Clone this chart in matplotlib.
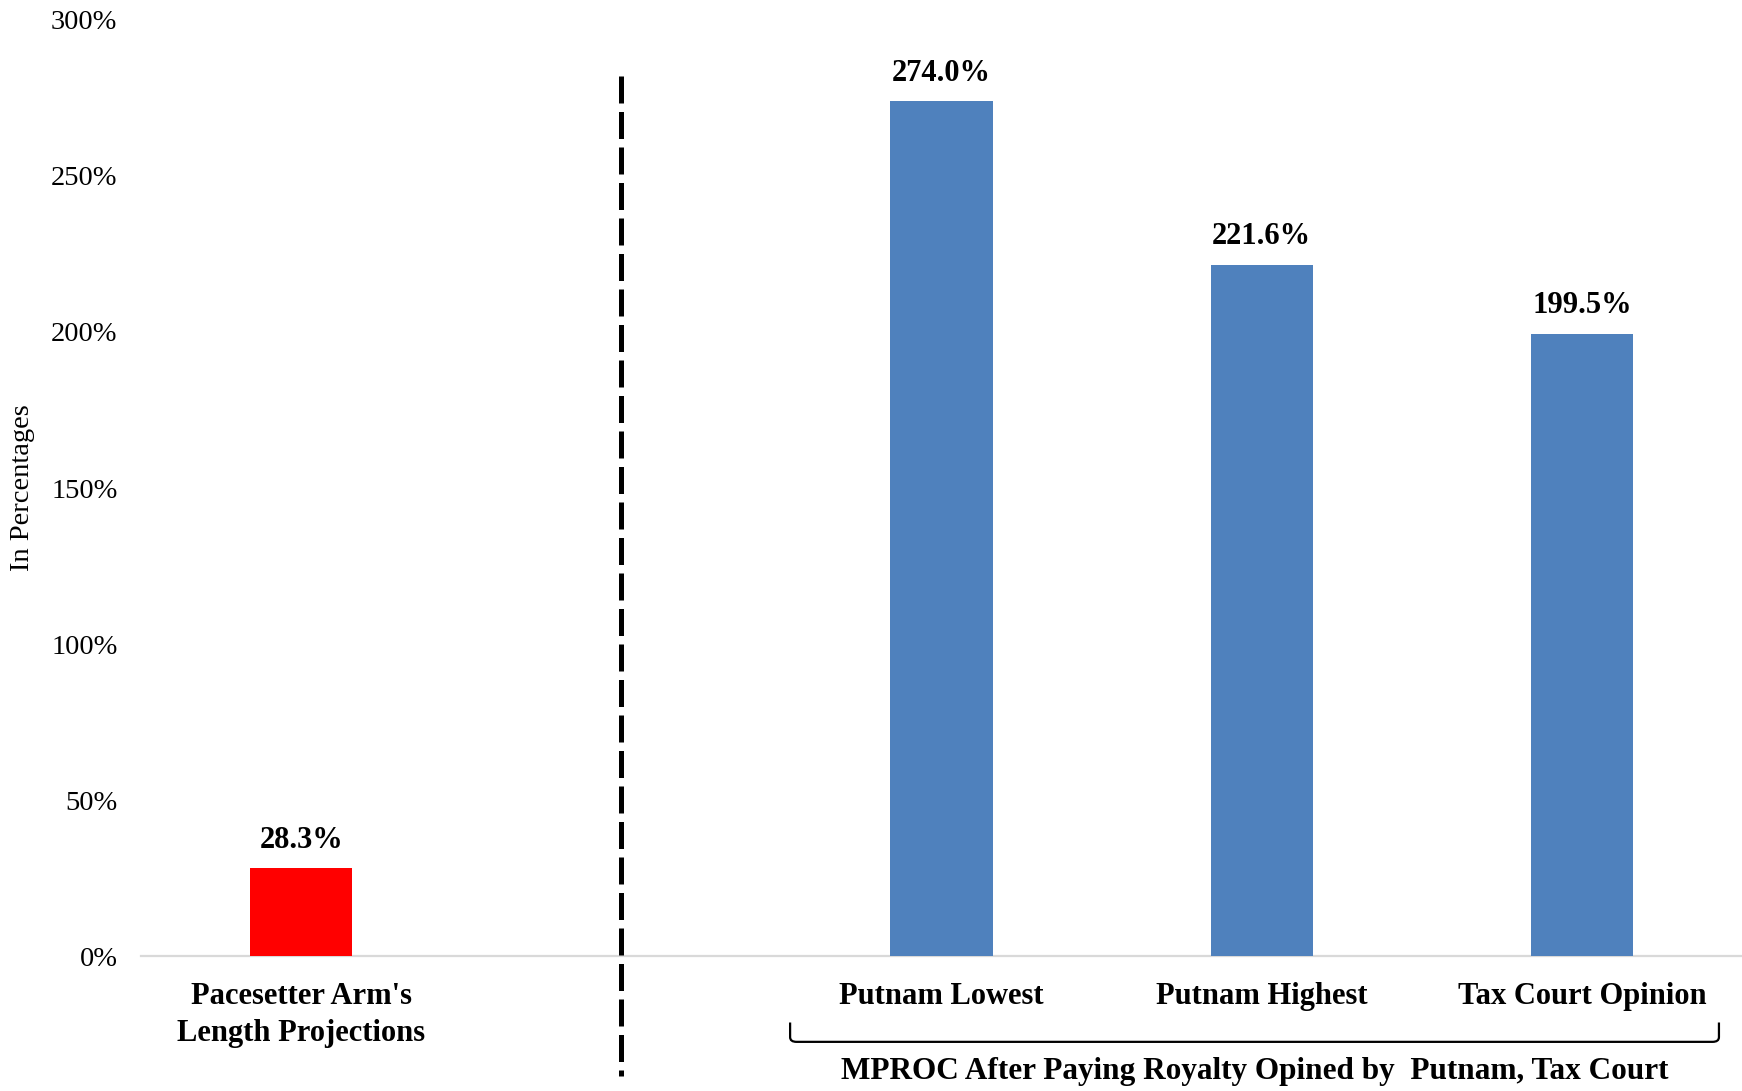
import matplotlib
matplotlib.use("Agg")
import matplotlib.pyplot as plt
from matplotlib.ticker import FuncFormatter
from matplotlib.path import Path
from matplotlib.patches import PathPatch

plt.rcParams['font.family'] = ['Liberation Serif', 'DejaVu Serif']

categories = ["Pacesetter Arm's\nLength Projections", "", "Putnam Lowest", "Putnam Highest", "Tax Court Opinion"]
values = [28.3, None, 274.0, 221.6, 199.5]
bar_colors = ["#FF0000", None, "#4F81BD", "#4F81BD", "#4F81BD"]
value_labels = ["28.3%", "", "274.0%", "221.6%", "199.5%"]
group_label = "MPROC After Paying Royalty Opined by  Putnam, Tax Court"
y_ticks = [0, 50, 100, 150, 200, 250, 300]


def main():
    fig = plt.figure(figsize=(17.42, 10.91), dpi=100)
    ax = fig.add_axes([0.081, 0.1237, 0.919, 0.858])

    xs = [i for i, v in enumerate(values) if v is not None]
    ax.bar(xs, [values[i] for i in xs], width=0.32,
           color=[bar_colors[i] for i in xs], zorder=3)
    for i in xs:
        ax.annotate(value_labels[i], (i, values[i]), xytext=(0, 9.5),
                    textcoords="offset points", ha="center", va="bottom",
                    fontsize=22, fontweight="bold")

    ax.set_xlim(-0.5, 4.5)
    ax.set_ylim(0, 300)
    ax.set_yticks(y_ticks)
    ax.yaxis.set_major_formatter(FuncFormatter(lambda v, p: f"{v:.0f}%"))
    ax.tick_params(axis="y", length=0, pad=17, labelsize=20.5)
    ax.set_xticks(xs)
    ax.set_xticklabels([categories[i] for i in xs], fontsize=22,
                       fontweight="bold", linespacing=1.35, va="top")
    ax.tick_params(axis="x", length=0, pad=19)

    for s in ["top", "right", "left"]:
        ax.spines[s].set_visible(False)
    ax.spines["bottom"].set_color("#d9d9d9")
    ax.spines["bottom"].set_linewidth(1.6)

    ax.set_ylabel("In Percentages", fontsize=20.5)
    ax.yaxis.set_label_coords(-0.066, 0.5)

    # dashed separator
    ax.plot([1, 1], [282, -38.5], color="black", lw=3.6,
            dashes=(5.4, 1.7), clip_on=False, zorder=4)

    # bracket under the Putnam / Tax Court group
    x0, x1 = 1.527, 4.428
    ytop, ybot, r = -21.3, -27.5, 0.02
    verts = [(x0, ytop), (x0, ybot + 1.5), (x0, ybot), (x0 + r, ybot),
             (x1 - r, ybot), (x1, ybot), (x1, ybot + 1.5), (x1, ytop)]
    codes = [Path.MOVETO, Path.LINETO, Path.CURVE3, Path.CURVE3,
             Path.LINETO, Path.CURVE3, Path.CURVE3, Path.LINETO]
    ax.add_patch(PathPatch(Path(verts, codes), fill=False, lw=1.6,
                           color="black", clip_on=False))
    ax.text((x0 + x1) / 2, -37.0, group_label, ha="center", va="center",
            fontsize=22.5, fontweight="bold")

    plt.savefig("out.png", dpi=100)


if __name__ == '__main__':
    main()
